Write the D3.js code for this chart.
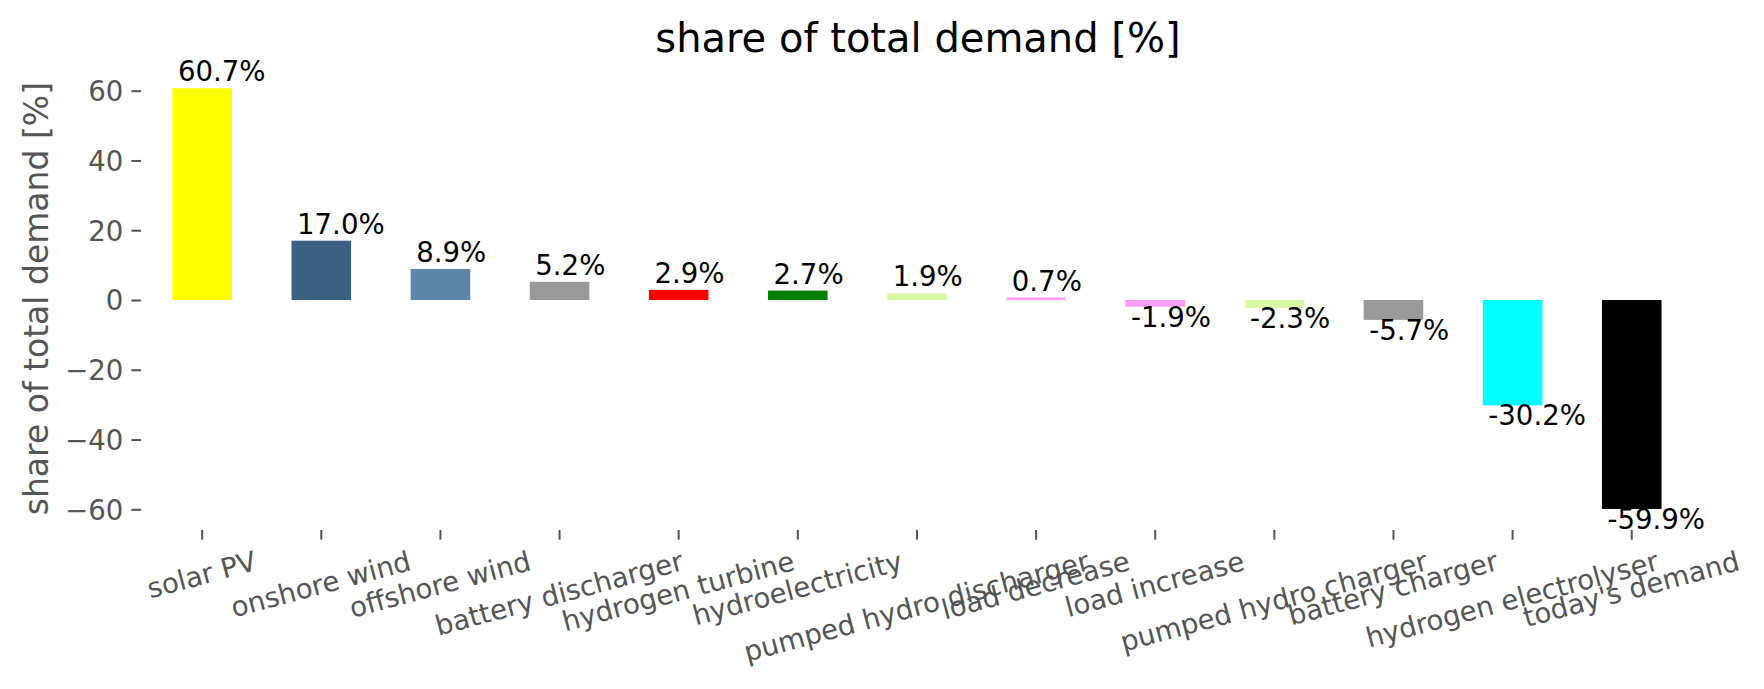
<!DOCTYPE html>
<html>
<head>
<meta charset="utf-8">
<script src="https://cdn.jsdelivr.net/npm/d3@7"></script>
<style>
  html, body { margin: 0; padding: 0; background: #ffffff; }
  svg { display: block; font-family: "DejaVu Sans", sans-serif; }
</style>
</head>
<body>
<svg id="chart" width="1764" height="689"></svg>
<script>
// ---- data ----
const categories = ["solar PV", "onshore wind", "offshore wind", "battery discharger",
  "hydrogen turbine", "hydroelectricity", "pumped hydro discharger", "load decrease",
  "load increase", "pumped hydro charger", "battery charger", "hydrogen electrolyser",
  "today's demand"];
const values = [60.7, 17.0, 8.9, 5.2, 2.9, 2.7, 1.9, 0.7, -1.9, -2.3, -5.7, -30.2, -59.9];
const colors = ["#ffff00", "#3b6182", "#5d85a7", "#999999", "#ff0000", "#008000",
  "#dbf8a3", "#fb9df6", "#fb9df6", "#dbf8a3", "#999999", "#00ffff", "#000000"];
const yTicks = [-60, -40, -20, 0, 20, 40, 60];
const titleText = "share of total demand [%]";
const yLabelText = "share of total demand [%]";

// ---- layout ----
const plot = { left: 142.6, right: 1691.3, top: 67.2, bottom: 530 };
const tickColor = "#555555";
const tickFont = 27.6;

const svg = d3.select("#chart");

const yMin = d3.min(values), yMax = d3.max(values);
const margin = (yMax - yMin) * 0.05;
const y = d3.scaleLinear().domain([yMin - margin, yMax + margin]).range([plot.bottom, plot.top]);
const x = d3.scaleBand().domain(categories).range([plot.left, plot.right])
  .paddingInner(0.5).paddingOuter(0.25);

// bars
svg.append("g").selectAll("rect").data(values).join("rect")
  .attr("x", (d, i) => x(categories[i]))
  .attr("width", x.bandwidth())
  .attr("y", d => Math.min(y(d), y(0)))
  .attr("height", d => Math.abs(y(d) - y(0)))
  .attr("fill", (d, i) => colors[i]);

// value labels
svg.append("g").selectAll("text").data(values).join("text")
  .attr("x", (d, i) => x(categories[i]) + 5.5)
  .attr("y", d => d >= 0 ? y(d) - 7 : y(d) + 20)
  .attr("font-size", tickFont)
  .attr("fill", "#000")
  .text(d => d.toFixed(1) + "%");

// y axis
const yAxis = svg.append("g")
  .attr("transform", `translate(${plot.left - 1.5},0)`)
  .call(d3.axisLeft(y).tickValues(yTicks).tickSize(9.7).tickPadding(8).tickFormat(d3.format("d")));
yAxis.select(".domain").remove();
yAxis.selectAll(".tick line").attr("stroke", tickColor).attr("stroke-width", 2);
yAxis.selectAll(".tick text")
  .attr("fill", tickColor).attr("font-size", tickFont)
  .attr("font-family", "DejaVu Sans").attr("dy", null).attr("y", 10);

// x axis
const xAxis = svg.append("g")
  .attr("transform", `translate(0,${plot.bottom})`)
  .call(d3.axisBottom(x).tickSize(9.7).tickPadding(9.7));
xAxis.select(".domain").remove();
xAxis.selectAll(".tick line").attr("stroke", tickColor).attr("stroke-width", 2);
const ang = 15 * Math.PI / 180;
xAxis.selectAll(".tick text")
  .attr("fill", tickColor).attr("font-size", tickFont)
  .attr("font-family", "DejaVu Sans")
  .attr("text-anchor", "middle")
  .attr("dy", null)
  .each(function () {
    const t = d3.select(this);
    const w = this.getComputedTextLength();
    const h = 0.968 * tickFont;
    const H = w * Math.sin(ang) + h * Math.cos(ang);
    const top = 9.7 + 9.7;
    t.attr("y", 0.276 * tickFont)
     .attr("x", 0)
     .attr("transform", `translate(0,${top + H / 2}) rotate(-15)`);
  });

// y label
svg.append("text")
  .attr("transform", `translate(48,${(plot.top + plot.bottom) / 2}) rotate(-90)`)
  .attr("text-anchor", "middle")
  .attr("font-size", 33)
  .attr("fill", tickColor)
  .text(yLabelText);

// title
svg.append("text")
  .attr("x", (plot.left + plot.right) / 2 + 1)
  .attr("y", 51.7)
  .attr("text-anchor", "middle")
  .attr("font-size", 40)
  .attr("fill", "#000")
  .text(titleText);
</script>
</body>
</html>
